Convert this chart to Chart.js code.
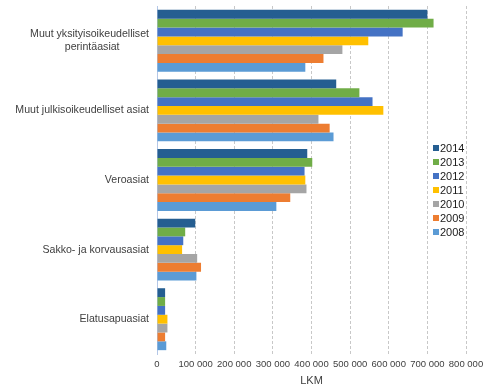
<!DOCTYPE html>
<html>
<head>
<meta charset="utf-8">
<script src="https://cdn.jsdelivr.net/npm/chart.js"></script>
<style>
  html, body { margin: 0; padding: 0; background: #fff; }
</style>
</head>
<body>
<canvas id="kaavio" width="494" height="388"></canvas>
<script>
var asiat = [
    ["Muut yksityisoikeudelliset", "perintäasiat          "],
    "Muut julkisoikeudelliset asiat",
    "Veroasiat",
    "Sakko- ja korvausasiat",
    "Elatusapuasiat"
];
var vuodet = ["2014", "2013", "2012", "2011", "2010", "2009", "2008"];

var v2014 = [700000, 464000, 389000, 99000, 21000];
var v2013 = [716000, 524000, 402000, 73000, 21000];
var v2012 = [636000, 558000, 382000, 68000, 21000];
var v2011 = [547000, 586000, 384000, 65000, 27000];
var v2010 = [480000, 418000, 387000, 104000, 27000];
var v2009 = [431000, 447000, 345000, 114000, 21000];
var v2008 = [384000, 457000, 309000, 102000, 24000];

var xTikit = [0, 100000, 200000, 300000, 400000, 500000, 600000, 700000, 800000];

var varit = ["#255E91", "#70AD47", "#4472C4", "#FFC000", "#A5A5A5", "#ED7D31", "#5B9BD5"];
var sarjat = [v2014, v2013, v2012, v2011, v2010, v2009, v2008];

var fontti = '"Liberation Sans", Arial, sans-serif';

function tuhannet(n) {
    return String(n).replace(/\B(?=(\d{3})+(?!\d))/g, " ");
}

// selite piirretään kuva-alueen päälle oikealle, kuten alkuperäisessä
var selite = {
    id: 'selite',
    afterDraw: function (chart) {
        var c = chart.ctx;
        var x = chart.chartArea.right - 33;
        var y0 = 148;
        c.save();
        c.font = '11px ' + fontti;
        c.textBaseline = 'middle';
        c.textAlign = 'left';
        chart.data.datasets.forEach(function (ds, i) {
            var y = y0 + i * 14;
            c.fillStyle = ds.backgroundColor;
            c.fillRect(x, y - 3, 6, 6);
            c.fillStyle = '#1a1a1a';
            c.fillText(ds.label, x + 7, y + 0.5);
        });
        c.restore();
    }
};

var ctx = document.getElementById("kaavio").getContext("2d");

var kaavio = new Chart(ctx, {
    type: 'bar',
    data: {
        labels: asiat,
        datasets: vuodet.map(function (v, i) {
            return {
                label: v,
                data: sarjat[i],
                backgroundColor: varit[i],
                borderWidth: 0,
                categoryPercentage: 0.89,
                barPercentage: 1.0
            };
        })
    },
    options: {
        indexAxis: 'y',
        responsive: false,
        animation: false,
        layout: { padding: { top: 6, right: 28, left: 0, bottom: 0 } },
        plugins: {
            legend: { display: false },
            tooltip: { enabled: false }
        },
        scales: {
            x: {
                min: 0,
                max: 800000,
                afterBuildTicks: function (s) {
                    s.ticks = xTikit.map(function (t) { return { value: t }; });
                },
                afterFit: function (s) { s.height = 34; },
                grid: { color: '#c8c8c8', drawTicks: false },
                border: { display: false, dash: [3, 2] },
                ticks: {
                    padding: 5,
                    color: '#404040',
                    font: { family: fontti, size: 9.5 },
                    maxRotation: 0,
                    callback: function (v) { return tuhannet(v); }
                },
                title: {
                    display: true,
                    text: 'LKM',
                    color: '#404040',
                    font: { family: fontti, size: 11 },
                    padding: { top: 0, bottom: 0 }
                }
            },
            y: {
                afterFit: function (s) {
                    s.width = 157;
                    s.paddingTop = 0;
                    s.paddingBottom = 0;
                },
                grid: { display: false, drawTicks: false },
                border: { display: true, color: '#b4c7e7', width: 1 },
                ticks: {
                    padding: 8,
                    color: '#404040',
                    font: { family: fontti, size: 10.6 }
                }
            }
        }
    },
    plugins: [selite]
});
</script>
</body>
</html>
